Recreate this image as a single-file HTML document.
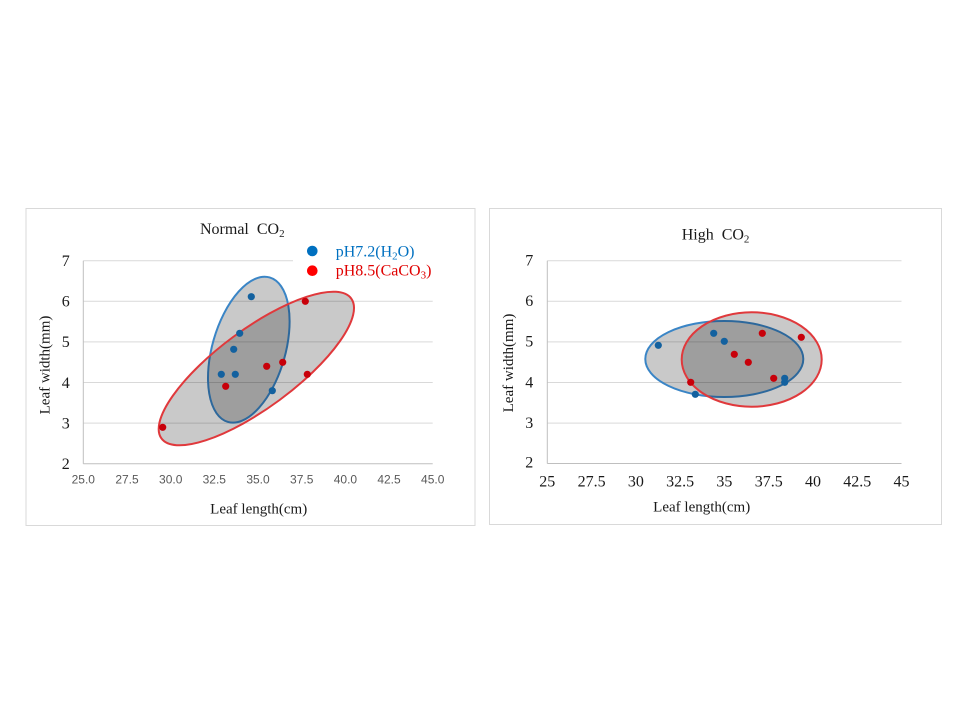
<!DOCTYPE html>
<html><head><meta charset="utf-8"><style>
html,body{margin:0;padding:0;background:#fff;}
svg{display:block;}
text{font-family:"Liberation Serif",serif;}
</style></head><body>
<svg width="960" height="720" viewBox="0 0 960 720" xmlns="http://www.w3.org/2000/svg">
<rect width="960" height="720" fill="#fff"/>
<!-- LEFT PANEL -->
<rect x="26" y="208.5" width="449" height="317" fill="#fff" stroke="#d9d9d9" stroke-width="1"/>
<g stroke="#d9d9d9" stroke-width="1">
<line x1="83.3" y1="260.7" x2="293" y2="260.7"/>
<line x1="83.3" y1="301.3" x2="432.7" y2="301.3"/>
<line x1="83.3" y1="341.9" x2="432.7" y2="341.9"/>
<line x1="83.3" y1="382.5" x2="432.7" y2="382.5"/>
<line x1="83.3" y1="423.1" x2="432.7" y2="423.1"/>
</g>
<g stroke="#bfbfbf" stroke-width="1">
<line x1="83.3" y1="260.7" x2="83.3" y2="463.7"/>
<line x1="83.3" y1="463.7" x2="432.7" y2="463.7"/>
</g>
<g font-size="16" fill="#1a1a1a" text-anchor="middle">
<text x="65.7" y="266">7</text>
<text x="65.7" y="306.6">6</text>
<text x="65.7" y="347.2">5</text>
<text x="65.7" y="387.8">4</text>
<text x="65.7" y="428.4">3</text>
<text x="65.7" y="469">2</text>
</g>
<g font-size="12" fill="#595959" text-anchor="middle">
<text x="83.3" y="483.3" style="font-family:'Liberation Sans',sans-serif">25.0</text>
<text x="127" y="483.3" style="font-family:'Liberation Sans',sans-serif">27.5</text>
<text x="170.7" y="483.3" style="font-family:'Liberation Sans',sans-serif">30.0</text>
<text x="214.3" y="483.3" style="font-family:'Liberation Sans',sans-serif">32.5</text>
<text x="258" y="483.3" style="font-family:'Liberation Sans',sans-serif">35.0</text>
<text x="301.7" y="483.3" style="font-family:'Liberation Sans',sans-serif">37.5</text>
<text x="345.4" y="483.3" style="font-family:'Liberation Sans',sans-serif">40.0</text>
<text x="389" y="483.3" style="font-family:'Liberation Sans',sans-serif">42.5</text>
<text x="432.7" y="483.3" style="font-family:'Liberation Sans',sans-serif">45.0</text>
</g>
<text x="200" y="234" font-size="16" fill="#1a1a1a">Normal&#160; CO<tspan font-size="11" dy="3">2</tspan></text>
<text x="258.7" y="513.3" font-size="15" fill="#1a1a1a" text-anchor="middle">Leaf length(cm)</text>
<text transform="translate(49.3,365) rotate(-90)" font-size="15" fill="#1a1a1a" text-anchor="middle">Leaf width(mm)</text>
<!-- legend -->
<circle cx="312.3" cy="251" r="5.3" fill="#0070c0"/>
<circle cx="312.3" cy="270.7" r="5.3" fill="#ff0000"/>
<text x="335.7" y="256.7" font-size="16" fill="#0070c0">pH7.2(H<tspan font-size="11" dy="3">2</tspan><tspan dy="-3">O)</tspan></text>
<text x="335.7" y="275.7" font-size="16" fill="#e00000">pH8.5(CaCO<tspan font-size="11" dy="3">3</tspan><tspan dy="-3">)</tspan></text>
<ellipse cx="248.8" cy="349.7" rx="75.2" ry="36.5" transform="rotate(-73.9 248.8 349.7)" fill="rgba(0,0,0,0.21)" stroke="#3a85c6" stroke-width="2"/>
<ellipse cx="256.35" cy="368.5" rx="117.9" ry="39.16" transform="rotate(-36.44 256.35 368.5)" fill="rgba(0,0,0,0.21)" stroke="#e0393c" stroke-width="2"/>
<!-- left data -->
<g fill="#13619f">
<circle cx="251.3" cy="296.7" r="3.6"/>
<circle cx="239.7" cy="333.3" r="3.6"/>
<circle cx="233.7" cy="349.3" r="3.6"/>
<circle cx="221.3" cy="374.3" r="3.6"/>
<circle cx="235.3" cy="374.3" r="3.6"/>
<circle cx="272.3" cy="390.7" r="3.6"/>
</g>
<g fill="#c8000a">
<circle cx="305.3" cy="301.3" r="3.6"/>
<circle cx="282.7" cy="362.3" r="3.6"/>
<circle cx="266.7" cy="366.3" r="3.6"/>
<circle cx="307.3" cy="374.3" r="3.6"/>
<circle cx="225.7" cy="386.3" r="3.6"/>
<circle cx="162.7" cy="427.3" r="3.6"/>
</g>

<!-- RIGHT PANEL -->
<rect x="489.5" y="208.5" width="452" height="316" fill="#fff" stroke="#d9d9d9" stroke-width="1"/>
<g stroke="#d9d9d9" stroke-width="1">
<line x1="547.3" y1="260.7" x2="901.5" y2="260.7"/>
<line x1="547.3" y1="301.3" x2="901.5" y2="301.3"/>
<line x1="547.3" y1="341.9" x2="901.5" y2="341.9"/>
<line x1="547.3" y1="382.5" x2="901.5" y2="382.5"/>
<line x1="547.3" y1="423.1" x2="901.5" y2="423.1"/>
</g>
<g stroke="#bfbfbf" stroke-width="1">
<line x1="547.3" y1="260.7" x2="547.3" y2="463.5"/>
<line x1="547.3" y1="463.5" x2="901.5" y2="463.5"/>
</g>
<g font-size="16" fill="#1a1a1a" text-anchor="middle">
<text x="529.3" y="265.5">7</text>
<text x="529.3" y="306.1">6</text>
<text x="529.3" y="346.7">5</text>
<text x="529.3" y="387.3">4</text>
<text x="529.3" y="427.9">3</text>
<text x="529.3" y="467.5">2</text>
</g>
<g font-size="16" fill="#1a1a1a" text-anchor="middle">
<text x="547.3" y="486.7">25</text>
<text x="591.6" y="486.7">27.5</text>
<text x="635.9" y="486.7">30</text>
<text x="680.1" y="486.7">32.5</text>
<text x="724.4" y="486.7">35</text>
<text x="768.7" y="486.7">37.5</text>
<text x="813" y="486.7">40</text>
<text x="857.2" y="486.7">42.5</text>
<text x="901.5" y="486.7">45</text>
</g>
<text x="681.7" y="239.3" font-size="16" fill="#1a1a1a">High&#160; CO<tspan font-size="11" dy="3">2</tspan></text>
<text x="701.7" y="511.7" font-size="15" fill="#1a1a1a" text-anchor="middle">Leaf length(cm)</text>
<text transform="translate(513,363) rotate(-90)" font-size="15" fill="#1a1a1a" text-anchor="middle">Leaf width(mm)</text>
<ellipse cx="724.3" cy="359" rx="79" ry="38" fill="rgba(0,0,0,0.21)" stroke="#3a85c6" stroke-width="2"/>
<ellipse cx="751.7" cy="359.5" rx="70" ry="47.2" fill="rgba(0,0,0,0.21)" stroke="#e0393c" stroke-width="2"/>
<g fill="#13619f">
<circle cx="658.3" cy="345.3" r="3.6"/>
<circle cx="713.7" cy="333.3" r="3.6"/>
<circle cx="724.3" cy="341.3" r="3.6"/>
<circle cx="695.3" cy="394.3" r="3.6"/>
<circle cx="784.7" cy="378.3" r="3.6"/>
<circle cx="784.7" cy="382.3" r="3.6"/>
</g>
<g fill="#c8000a">
<circle cx="762.3" cy="333.3" r="3.6"/>
<circle cx="801.3" cy="337.3" r="3.6"/>
<circle cx="734.3" cy="354.3" r="3.6"/>
<circle cx="748.3" cy="362.3" r="3.6"/>
<circle cx="773.7" cy="378.3" r="3.6"/>
<circle cx="690.7" cy="382.3" r="3.6"/>
</g>
</svg>
</body></html>
